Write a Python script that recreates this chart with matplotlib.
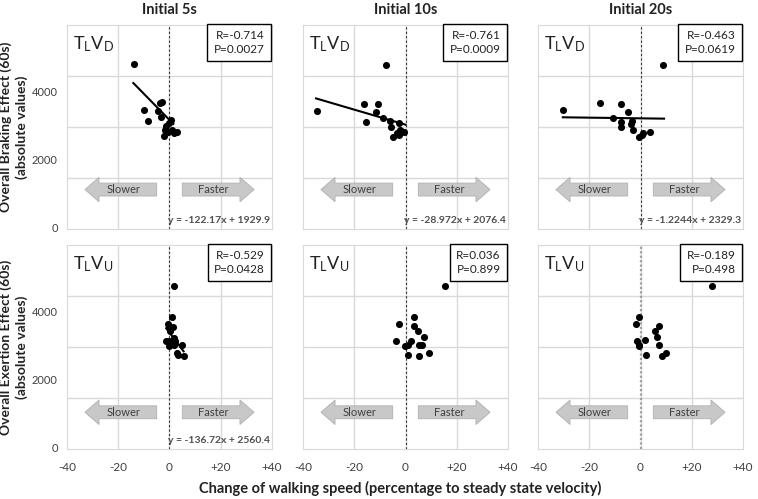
import numpy as np
import matplotlib
matplotlib.use("Agg")
import matplotlib.pyplot as plt
from matplotlib.patches import FancyArrow

plt.rcParams['font.family'] = ['Lato', 'DejaVu Sans']

# ---- data (x: % speed change, y: effect) ----
x_5s_D = [-13.8, -10.1, -8.2, -3.9, -2.9, -4.6, -3.3, 0.7, 0.0, -1.3, -1.7, -2.0, 1.1, 1.7, 3.0, -0.7]
y_5s_D = [4855, 3503, 3187, 3720, 3730, 3484, 3306, 3207, 3109, 3030, 2911, 2734, 2911, 2812, 2862, 2862]
x_10s_D = [-34.6, -7.6, -16.3, -10.7, -11.5, -15.3, -8.8, -5.9, -2.6, -5.5, -2.2, -1.7, -0.4, -3.5, -4.8, -2.6]
y_10s_D = [3484, 4835, 3691, 3691, 3454, 3148, 3266, 3168, 3118, 2990, 2921, 2872, 2842, 2822, 2704, 2773]
x_20s_D = [-30.3, -15.7, -7.8, -4.8, -10.8, -7.5, -3.5, -3.9, -7.6, -3.0, 1.0, 0.7, -0.4, 3.7, 8.9]
y_20s_D = [3493, 3700, 3691, 3454, 3276, 3148, 3178, 3099, 2990, 2921, 2822, 2773, 2704, 2842, 4835]

x_5s_U = [1.6, 0.9, -0.6, -0.1, 1.2, 0.3, 1.6, -1.3, 0.0, 2.2, -0.1, 1.9, 4.8, 2.9, 3.2, 5.5]
y_5s_U = [4794, 3873, 3676, 3608, 3588, 3480, 3265, 3186, 3167, 3186, 3020, 3049, 3049, 2824, 2775, 2725]
x_10s_U = [15.4, 3.4, -2.6, 3.4, 5.0, 7.3, 2.1, -3.9, 1.0, -0.3, 5.4, 6.4, 1.0, 5.2, 9.2]
y_10s_U = [4794, 3873, 3676, 3608, 3480, 3284, 3186, 3167, 3069, 3020, 3049, 3069, 2775, 2725, 2824]
x_20s_U = [27.8, -0.5, -1.8, 7.2, 5.6, 6.4, 1.7, -1.2, -0.5, -0.7, 7.3, 2.0, 8.2, 9.8]
y_20s_U = [4794, 3873, 3676, 3608, 3480, 3284, 3196, 3167, 3069, 3020, 3049, 2775, 2725, 2824]

# trend lines as drawn: slope, intercept, x-range (None = no line)
trend_D = [(-77, 3207, -14.1, 1.5), (-22.1, 3069, -34.9, 0.0), (-1.0, 3255, -30.3, 9.2)]
trend_U = [(-100, 3423, -1.3, 5.5), None, None]

stats_D = ["R=-0.714\nP=0.0027", "R=-0.761\nP=0.0009", "R=-0.463\nP=0.0619"]
stats_U = ["R=-0.529\nP=0.0428", "R=0.036\nP=0.899", "R=-0.189\nP=0.498"]
eq_D = ["y = -122.17x + 1929.9", "y = -28.972x + 2076.4", "y = -1.2244x + 2329.3"]
eq_U = ["y = -136.72x + 2560.4", None, None]

col_titles = ["Initial 5s", "Initial 10s", "Initial 20s"]
x_ticks = [-40, -20, 0, 20, 40]
x_tick_labels = ["-40", "-20", "0", "+20", "+40"]
y_ticks = [0, 2000, 4000]

xs = [[x_5s_D, x_10s_D, x_20s_D], [x_5s_U, x_10s_U, x_20s_U]]
ys = [[y_5s_D, y_10s_D, y_20s_D], [y_5s_U, y_10s_U, y_20s_U]]
trends = [trend_D, trend_U]
stats = [stats_D, stats_U]
eqs = [eq_D, eq_U]
labels = [r"$\mathregular{T_LV_D}$", r"$\mathregular{T_LV_U}$"]
ylabels = ["Overall Braking Effect (60s)\n(absolute values)",
           "Overall Exertion Effect (60s)\n(absolute values)"]

W, H = 758, 499
fig = plt.figure(figsize=(W / 100, H / 100), dpi=100)

lefts = [67, 303, 538]
tops = [25, 245]
pw, ph = 205, 204
grid_c = '#d9d9d9'
text_c = '#404040'
arrow_y = [1160, 1080]

for r in range(2):
    for c in range(3):
        ax = fig.add_axes([lefts[c] / W, 1 - (tops[r] + ph) / H, pw / W, ph / H])
        ax.set_xlim(-40, 40)
        ax.set_ylim(0, 6000)
        ax.set_xticks([-20, 0, 20])
        ax.set_yticks([1500, 3000, 4500])
        ax.grid(True, color=grid_c, lw=1.0)
        ax.set_axisbelow(True)
        for s in ax.spines.values():
            s.set_color(grid_c)
        ax.tick_params(length=0, labelbottom=False, labelleft=False)

        # zero line
        if r == 1 and c == 2:
            ax.axvline(0, color='#a0a0a0', lw=1.6, ls=(0, (1, 1)), zorder=2)
        else:
            ax.axvline(0, color='#333333', lw=0.8, ls=(0, (2, 2)), zorder=2)

        # direction arrows
        ay = arrow_y[r]
        ax.add_patch(FancyArrow(-5, ay, -28, 0, width=380, head_width=720, head_length=5.5,
                                length_includes_head=True, fc='#c8c8c8', ec='#b0b0b0', lw=0.6, zorder=2))
        ax.add_patch(FancyArrow(5, ay, 28, 0, width=380, head_width=720, head_length=5.5,
                                length_includes_head=True, fc='#c8c8c8', ec='#b0b0b0', lw=0.6, zorder=2))
        ax.text(-18, ay, "Slower", ha='center', va='center', fontsize=8, color=text_c, zorder=3)
        ax.text(17, ay, "Faster", ha='center', va='center', fontsize=8, color=text_c, zorder=3)

        ax.scatter(xs[r][c], ys[r][c], s=26, color='black', zorder=4, linewidths=0)

        t = trends[r][c]
        if t is not None:
            k, b, x0, x1 = t
            lx = np.array([x0, x1])
            ax.plot(lx, k * lx + b, color='black', lw=1.5, zorder=5)

        ax.text(0.03, 0.955, labels[r], transform=ax.transAxes, fontsize=13,
                ha='left', va='top', color='#222222')
        ax.text(0.965, 0.975, stats[r][c], transform=ax.transAxes, fontsize=8.5,
                ha='right', va='top', color='#222222', linespacing=1.3, zorder=6,
                bbox=dict(boxstyle='square,pad=0.55', fc='white', ec='black', lw=1.0))
        if eqs[r][c] is not None:
            ax.text(0.99, 0.02, eqs[r][c], transform=ax.transAxes, fontsize=7.5,
                    ha='right', va='bottom', color='#505050', fontweight='bold', zorder=6)

        if r == 1:
            for xv, lab in zip(x_ticks, x_tick_labels):
                ax.text(xv, -0.09, lab, transform=ax.get_xaxis_transform(), ha='center',
                        va='center', fontsize=8.5, color=text_c)
        if c == 0:
            for yv in y_ticks:
                ax.text(-0.045, yv, str(yv), transform=ax.get_yaxis_transform(), ha='right',
                        va='center', fontsize=8, color=text_c)

for c in range(3):
    fig.text((lefts[c] + pw / 2) / W, 1 - 10 / H, col_titles[c], ha='center', va='center',
             fontsize=10.5, fontweight='bold', color='#222222')
for r in range(2):
    fig.text(14 / W, 1 - (tops[r] + ph / 2) / H, ylabels[r], rotation=90, ha='center',
             va='center', fontsize=10, fontweight='bold', color='#222222', linespacing=1.3)
fig.text(400 / W, 1 - 488 / H, "Change of walking speed (percentage to steady state velocity)",
         ha='center', va='center', fontsize=10.5, fontweight='bold', color='#222222')

fig.savefig('out.png', dpi=100)
